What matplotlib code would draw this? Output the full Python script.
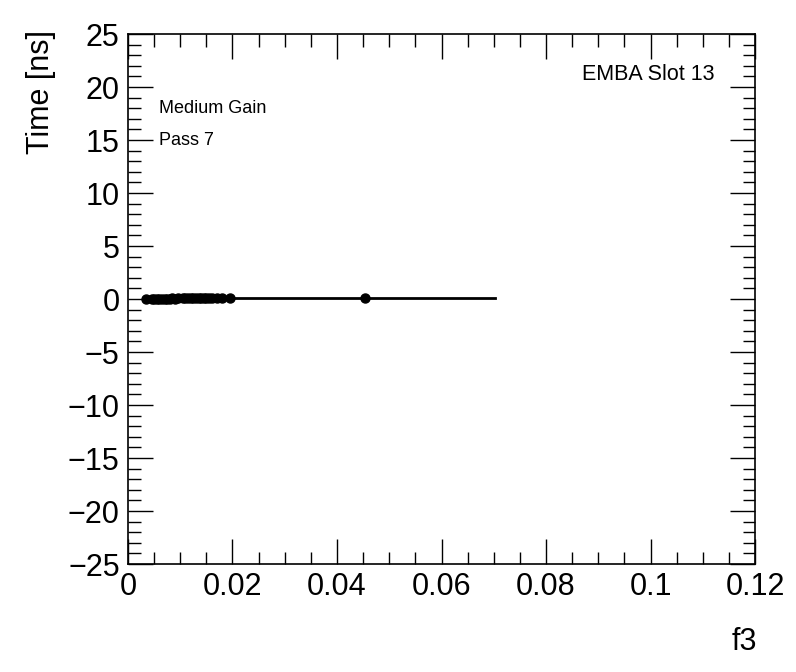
import numpy as np
import matplotlib.pyplot as plt
from matplotlib.ticker import MultipleLocator

plt.rcParams['font.family'] = ['Liberation Sans', 'DejaVu Sans']

# points
f3 = [0.0035, 0.0045, 0.005, 0.0055, 0.006, 0.0065, 0.007, 0.0075, 0.008,
      0.0085, 0.009, 0.0095, 0.0105, 0.011, 0.0115, 0.012, 0.0125, 0.013,
      0.0135, 0.014, 0.0145, 0.015, 0.0155, 0.016, 0.017, 0.018, 0.0195, 0.0454]
tiempo = [0.0, 0.0, 0.0, 0.0, 0.0, 0.0, 0.0, 0.0, 0.0,
          0.05, 0.0, 0.05, 0.1, 0.1, 0.05, 0.1, 0.1, 0.1,
          0.1, 0.1, 0.1, 0.1, 0.1, 0.1, 0.1, 0.1, 0.1, 0.1]

# fitted line
fit_x = [0.003, 0.0702]
fit_y = [0.05, 0.05]

fig = plt.figure(figsize=(7.96, 6.72), dpi=100)
ax = fig.add_axes([0.1608, 0.1607, 0.7877, 0.7887])

ax.plot(fit_x, fit_y, color='black', lw=2, zorder=2)
ax.plot(f3, tiempo, 'o', color='black', ms=6.5, zorder=3)

ax.set_xlim(0, 0.12)
ax.set_ylim(-25, 25)
ax.xaxis.set_minor_locator(MultipleLocator(0.005))
ax.yaxis.set_minor_locator(MultipleLocator(1))
ax.set_xticks([0, 0.02, 0.04, 0.06, 0.08, 0.1, 0.12])
ax.set_xticklabels(['0', '0.02', '0.04', '0.06', '0.08', '0.1', '0.12'])
ax.set_yticks(np.arange(-25, 26, 5))
ax.set_yticklabels([str(v).replace('-', '\u2212') for v in range(-25, 26, 5)])

ax.tick_params(which='both', direction='in', top=True, right=True,
               labelsize=22, width=1)
ax.tick_params(which='major', length=18, pad=6)
ax.tick_params(which='minor', length=9)
for s in ax.spines.values():
    s.set_linewidth(1.2)

fig.text(0.033, 0.955, 'Time [ns]', rotation=90, fontsize=22,
         ha='left', va='top')
fig.text(0.951, 0.022, 'f3', fontsize=22, ha='right', va='bottom')

ax.text(0.05, 0.86, 'Medium Gain', transform=ax.transAxes, fontsize=13,
        va='center')
ax.text(0.05, 0.80, 'Pass 7', transform=ax.transAxes, fontsize=13,
        va='center')
ax.text(0.935, 0.923, 'EMBA Slot 13', transform=ax.transAxes, fontsize=15.5,
        ha='right', va='center')

fig.savefig('out.png', dpi=100)
